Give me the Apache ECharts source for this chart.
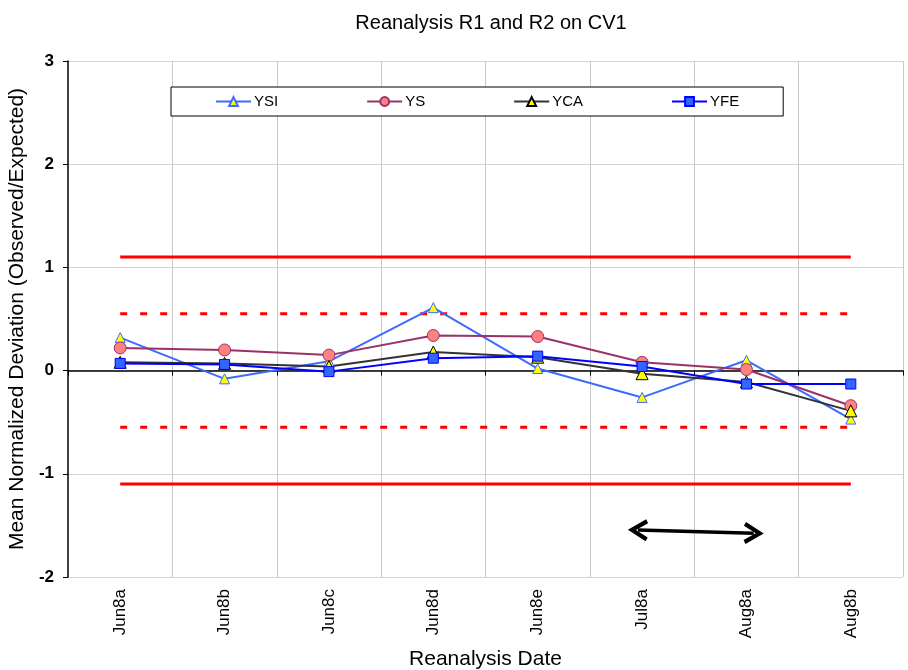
<!DOCTYPE html>
<html><head><meta charset="utf-8">
<script src="https://cdn.jsdelivr.net/npm/echarts@6/dist/echarts.min.js"></script>
<style>html,body{margin:0;padding:0;background:#fff}#c{width:908px;height:670px}</style>
</head><body><div id="c"></div>
<script>
const categories = ['Jun8a','Jun8b','Jun8c','Jun8d','Jun8e','Jul8a','Aug8a','Aug8b'];
const ysi = [0.32, -0.08, 0.09, 0.61, 0.02, -0.26, 0.10, -0.47];
const ys  = [0.22, 0.20, 0.15, 0.34, 0.33, 0.08, 0.01, -0.34];
const yca = [0.08, 0.07, 0.04, 0.18, 0.13, -0.03, -0.11, -0.39];
const yfe = [0.07, 0.06, -0.01, 0.12, 0.14, 0.04, -0.13, -0.13];
const outerLimit = [1.1, 1.1, 1.1, 1.1, 1.1, 1.1, 1.1, 1.1];
const outerLimitNeg = [-1.1, -1.1, -1.1, -1.1, -1.1, -1.1, -1.1, -1.1];
const innerLimit = [0.55, 0.55, 0.55, 0.55, 0.55, 0.55, 0.55, 0.55];
const innerLimitNeg = [-0.55, -0.55, -0.55, -0.55, -0.55, -0.55, -0.55, -0.55];
// arrow annotation: [category position, value] at each end
const arrowStart = [4.96, -1.545];
const arrowEnd = [6.07, -1.575];

const FONT = 'Liberation Sans, Arial, sans-serif';
const chart = echarts.init(document.getElementById('c'));
const chevron = 'path://M0,18 L10,0 L20,18 L16.5,20 L10,8 L3.5,20 Z';

function limitSeries(name, data, type) {
  return {
    name: name, type: 'line', data: data, silent: true, symbol: 'none',
    lineStyle: {color: '#ff0000', width: 3, type: type, dashOffset: 0},
    z: 1
  };
}
function dataSeries(name, data, color, symbol, size, fill, border) {
  return {
    name: name, type: 'line', data: data, symbol: symbol, symbolSize: size,
    lineStyle: {color: color, width: 2},
    itemStyle: {color: fill, borderColor: border, borderWidth: 1},
    color: color, z: 3
  };
}

chart.setOption({
  animation: false,
  title: {
    text: 'Reanalysis R1 and R2 on CV1', left: 486, top: 8, textAlign: 'center',
    textStyle: {fontFamily: FONT, fontSize: 20, fontWeight: 'normal', color: '#000'}
  },
  legend: {
    data: ['YSI','YS','YCA','YFE'],
    left: 171, top: 87,
    padding: [7, 44, 7, 44],
    itemGap: 88, itemWidth: 35, itemHeight: 11,
    borderColor: '#000', borderWidth: 1, backgroundColor: '#fff',
    textStyle: {fontFamily: FONT, fontSize: 15, color: '#000', padding: [0,0,0,-2]}
  },
  grid: {left: 68, right: 5, top: 61, bottom: 93, containLabel: false, outerBoundsMode: 'none'},
  xAxis: [
    {
      type: 'category', data: categories, position: 'bottom',
      axisLine: {show: false, onZero: false},
      axisTick: {show: false},
      axisLabel: {rotate: 90, margin: 12, fontFamily: FONT, fontSize: 17, color: '#000'},
      splitLine: {show: true, showMinLine: false, showMaxLine: true, lineStyle: {color: '#c8c8c8', width: 1}},
      name: 'Reanalysis Date', nameLocation: 'middle', nameGap: 72,
      nameTextStyle: {fontFamily: FONT, fontSize: 21, color: '#000'}
    },
    {
      type: 'category', data: categories, position: 'bottom',
      axisLine: {show: true, onZero: true, lineStyle: {color: '#000', width: 1.5}},
      axisTick: {show: true, length: 5, lineStyle: {color: '#000'}},
      axisLabel: {show: false}, splitLine: {show: false}
    },
    {
      type: 'value', min: -0.5, max: 7.5, show: false, position: 'top'
    }
  ],
  yAxis: {
    type: 'value', min: -2, max: 3, interval: 1,
    axisLine: {show: true, onZero: false, lineStyle: {color: '#000', width: 1.5}},
    axisTick: {show: true, length: 5, lineStyle: {color: '#000'}},
    axisLabel: {margin: 14, fontFamily: FONT, fontSize: 17, fontWeight: 'bold', color: '#000'},
    splitLine: {show: true, lineStyle: {color: '#d4d4d4', width: 1}},
    name: 'Mean Normalized Deviation (Observed/Expected)', nameLocation: 'middle', nameGap: 39,
    nameTextStyle: {fontFamily: FONT, fontSize: 21, color: '#000'}
  },
  series: [
    limitSeries('lim1', outerLimit, 'solid'),
    limitSeries('lim2', outerLimitNeg, 'solid'),
    limitSeries('lim3', innerLimit, [7, 13]),
    limitSeries('lim4', innerLimitNeg, [7, 13]),
    dataSeries('YSI', ysi, '#3d6bff', 'triangle', 10, '#ffff00', '#3d6bff'),
    dataSeries('YS', ys, '#993366', 'circle', 12, '#ff8080', '#993366'),
    dataSeries('YCA', yca, '#333333', 'triangle', 12, '#ffff00', '#000000'),
    dataSeries('YFE', yfe, '#0000ff', 'rect', 10, '#3366ff', '#0000ff'),
    {
      name: 'arrow', type: 'line', xAxisIndex: 2, data: [], silent: true, symbol: 'none',
      markLine: {
        silent: true, animation: false,
        symbol: [chevron, chevron], symbolSize: [22, 20],
        label: {show: false},
        lineStyle: {color: '#000', width: 3.5, type: 'solid'},
        data: [[{coord: arrowStart}, {coord: arrowEnd}]]
      }
    }
  ]
});
</script></body></html>
